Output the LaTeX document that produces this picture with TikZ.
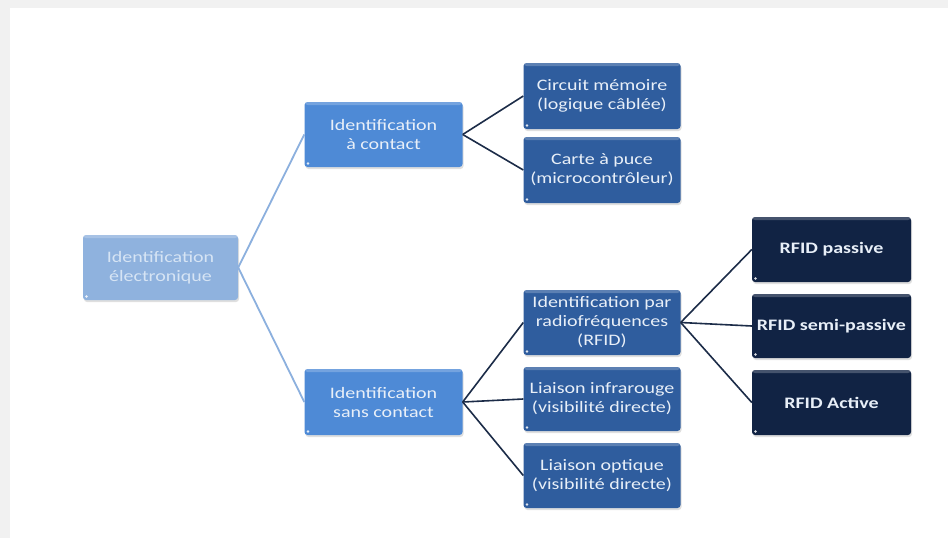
\documentclass[tikz,border=0pt]{standalone}
\usepackage{fontspec}
\setmainfont{Carlito}[FakeStretch=1.25]
\usetikzlibrary{shadows}

\definecolor{pagegray}{RGB}{241,241,241}
\definecolor{rootfill}{RGB}{143,178,222}
\definecolor{roottext}{RGB}{214,228,244}
\definecolor{lvlonefill}{RGB}{78,138,214}
\definecolor{lvltwofill}{RGB}{47,93,158}
\definecolor{lvlthreefill}{RGB}{17,35,68}
\definecolor{boxtext}{RGB}{232,239,248}
\definecolor{rootline}{RGB}{140,176,222}
\definecolor{darkline}{RGB}{28,44,72}

\tikzset{
  box/.style={rectangle, rounded corners=3pt, minimum width=157pt,
    minimum height=64pt, inner sep=2pt, align=center, text=boxtext,
    font=\fontsize{16}{19}\selectfont,
    drop shadow={opacity=0.25, shadow xshift=1pt, shadow yshift=-2pt},
    path picture={
      \fill[white, opacity=0.22] (path picture bounding box.north west)
        rectangle ([yshift=-3pt]path picture bounding box.north east);
      \fill[white, opacity=0.85]
        ([shift={(3.5pt,3.5pt)}]path picture bounding box.south west) circle (1.4pt);
    }},
  rootbox/.style={box, fill=rootfill, text=roottext},
  lvlone/.style={box, fill=lvlonefill},
  lvltwo/.style={box, fill=lvltwofill},
  lvlthree/.style={box, fill=lvlthreefill, font=\fontsize{16}{19}\selectfont\bfseries},
  rootlink/.style={draw=rootline, line width=1.8pt},
  link/.style={draw=darkline, line width=1.6pt},
}

\begin{document}
\begin{tikzpicture}[x=1pt, y=-1pt]
  % page background with grey margin strip
  \useasboundingbox (0,0) rectangle (948,538);
  \fill[pagegray] (0,0) rectangle (948,538);
  \fill[white] (10,8) rectangle (948,538);

  % root
  \node[rootbox, minimum width=155pt, minimum height=65pt] (root) at (160.5,267.5)
    {Identification\\électronique};

  % first level
  \node[lvlone, minimum width=158pt, minimum height=65pt] (contact) at (383.5,134.5)
    {Identification\\à contact};
  \node[lvlone, minimum width=158pt, minimum height=66pt] (sans) at (383.5,402)
    {Identification\\sans contact};

  % second level
  \node[lvltwo, minimum height=66pt] (circuit) at (602,96)
    {Circuit mémoire\\(logique câblée)};
  \node[lvltwo, minimum height=66pt] (carte) at (602,170)
    {Carte à puce\\(microcontrôleur)};
  \node[lvltwo, minimum height=65pt] (rfid) at (602,322.5)
    {Identification par\\radiofréquences\\(RFID)};
  \node[lvltwo, minimum height=64pt] (ir) at (602,399)
    {Liaison infrarouge\\(visibilité directe)};
  \node[lvltwo, minimum height=65pt] (opt) at (602,475.5)
    {Liaison optique\\(visibilité directe)};

  % third level
  \node[lvlthree, minimum width=159pt, minimum height=65pt] (passive) at (831.5,249.5)
    {RFID passive};
  \node[lvlthree, minimum width=159pt, minimum height=64pt] (semi) at (831.5,326)
    {RFID semi-passive};
  \node[lvlthree, minimum width=159pt, minimum height=65pt] (active) at (831.5,402.5)
    {RFID Active};

  % connectors
  \draw[rootlink] (root.east) -- (contact.west);
  \draw[rootlink] (root.east) -- (sans.west);
  \draw[link] (contact.east) -- (circuit.west);
  \draw[link] (contact.east) -- (carte.west);
  \draw[link] (sans.east) -- (rfid.west);
  \draw[link] (sans.east) -- (ir.west);
  \draw[link] (sans.east) -- (opt.west);
  \draw[link] (rfid.east) -- (passive.west);
  \draw[link] (rfid.east) -- (semi.west);
  \draw[link] (rfid.east) -- (active.west);
\end{tikzpicture}
\end{document}
